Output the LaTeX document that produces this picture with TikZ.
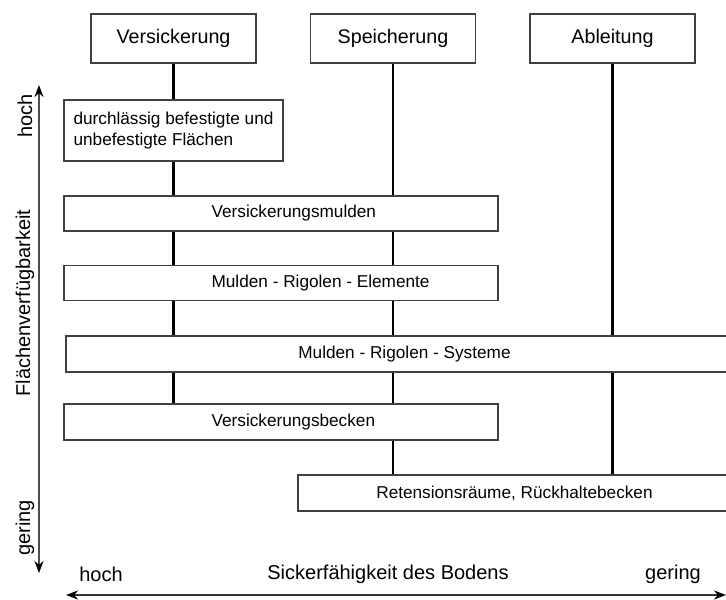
\documentclass[tikz,border=0pt]{standalone}
\usepackage{fontspec}
\setmainfont{Liberation Sans}
\usetikzlibrary{arrows.meta,backgrounds}

\begin{document}
\begin{tikzpicture}[x=0.5pt,y=-0.5pt,
every node/.style={rectangle,inner sep=0pt},
head/.style={draw=black!75,line width=0.8pt,fill=white,minimum width=82.5pt,minimum height=24.5pt,font=\fontsize{9.85}{11}\selectfont},
box/.style={draw=black!75,line width=0.8pt,fill=white,minimum height=17.5pt,font=\fontsize{8.6}{10.5}\selectfont},
boxtext/.style={anchor=west,font=\fontsize{8.6}{10.5}\selectfont},
axislabel/.style={font=\fontsize{10}{12}\selectfont}]
\useasboundingbox (0,0) rectangle (726,599);
\node[head] (vers) at (173.5,38.5) {Versickerung};
\node[head] (speich) at (393,38.5) {Speicherung};
\node[head] (abl) at (612.5,38.5) {Ableitung};
\node[box,minimum width=109.5pt,minimum height=30.5pt,align=left] (flaech) at (173.5,130.5) {durchlässig befestigte und\\unbefestigte Flächen};
\node[box,minimum width=217pt,label={[boxtext,xshift=74pt]west:Versickerungsmulden}] (mulden) at (281,213.5) {};
\node[box,minimum width=217pt,label={[boxtext,xshift=74pt]west:Mulden - Rigolen - Elemente}] (elem) at (281,283) {};
\node[box,minimum width=338.5pt,minimum height=18pt] (syst) at (404.5,354) {Mulden - Rigolen - Systeme};
\node[box,minimum width=217pt,minimum height=18pt,label={[boxtext,xshift=74pt]west:Versickerungsbecken}] (becken) at (281,422) {};
\node[box,minimum width=216.5pt,minimum height=18pt] (ret) at (514.5,493) {Retensionsräume, Rückhaltebecken};
\begin{scope}[on background layer]
\draw[line width=1.25pt] (vers.south)--(vers.south |- becken.north);
\draw[line width=1.25pt] (speich.south)--(speich.south |- ret.north);
\draw[line width=1.25pt] (abl.south)--(abl.south |- ret.north);
\end{scope}
% axes
\coordinate (ytop) at (39,85);
\coordinate (ybot) at (39,573);
\coordinate (xleft) at (66,595);
\coordinate (xright) at (726,595);
\draw[black!70,line width=1pt,{Stealth[black,length=6pt,width=4.5pt]}-{Stealth[black,length=6pt,width=4.5pt]}] (ytop)--(ybot);
\draw[black!80,line width=1pt,{Stealth[black,length=6pt,width=4.5pt]}-{Stealth[black,length=6pt,width=4.5pt]}] (xleft)--(xright);
\node[axislabel,rotate=90] (yhoch) at (25,116) {hoch};
\node[axislabel,rotate=90] (ytext) at (25,303) {Flächenverfügbarkeit};
\node[axislabel,rotate=90] (ygering) at (25,528) {gering};
\node[axislabel] (xhoch) at (101,574) {hoch};
\node[axislabel] (xtext) at (388,574) {Sickerfähigkeit des Bodens};
\node[axislabel] (xgering) at (673,574) {gering};
\end{tikzpicture}
\end{document}
